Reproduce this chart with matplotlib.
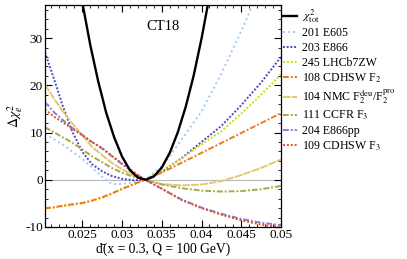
import matplotlib
matplotlib.use("Agg")
import matplotlib.pyplot as plt
from matplotlib.ticker import MultipleLocator

plt.rcParams.update({
    "font.family": ["Liberation Serif", "DejaVu Serif"],
    "mathtext.fontset": "stix",
    "axes.unicode_minus": False,
    "font.size": 10,
})

# d-bar values at which the experiment curves were read
dbar = [0.0203, 0.0215, 0.0225, 0.0237, 0.025, 0.0262, 0.0275, 0.0287, 0.030,
        0.0315, 0.0329, 0.035, 0.0375, 0.040, 0.0425, 0.045, 0.0475, 0.050]

e605 = [9.7, 8.5, 7.5, 6.0, 4.4, 2.6, 0.6, -0.9, -0.9, -0.5, 0.0, 2.8, 8.5, 14.5, 22.5, 31.5, 41.0, 51.0]
e866 = [27.0, 21.0, 15.8, 10.3, 5.9, 3.3, 1.8, 0.8, 0.2, -0.1, 0.0, 1.7, 4.6, 8.0, 11.4, 15.8, 20.6, 26.0]
lhcb = [-6.1, -5.9, -5.6, -5.3, -5.0, -4.5, -3.8, -3.0, -2.0, -1.0, 0.0, 1.9, 4.5, 7.5, 10.3, 14.0, 18.0, 22.3]
cdhsw_f2 = [-6.0, -5.8, -5.5, -5.2, -4.9, -4.4, -3.7, -2.9, -1.9, -0.9, 0.0, 1.5, 3.6, 5.7, 7.8, 9.9, 12.0, 14.1]
nmc = [20.2, 17.0, 14.6, 12.0, 9.4, 7.0, 5.2, 3.6, 2.2, 0.9, 0.0, -0.9, -1.2, -1.0, -0.3, 1.0, 2.5, 4.3]
ccfr_f3 = [11.1, 10.0, 9.0, 7.9, 6.4, 5.0, 3.7, 2.5, 1.5, 0.6, 0.0, -1.0, -1.8, -2.3, -2.5, -2.4, -2.0, -1.3]
e866pp = [16.4, 14.2, 12.7, 11.0, 9.5, 8.0, 6.6, 5.0, 3.3, 1.5, 0.0, -1.9, -4.2, -5.9, -7.2, -8.3, -9.1, -9.6]
cdhsw_f3 = [14.9, 13.3, 12.2, 10.8, 9.4, 8.0, 6.7, 5.1, 3.4, 1.6, 0.0, -1.9, -4.3, -6.0, -7.4, -8.6, -9.5, -10.1]

# total chi2 curve
dbar_tot = [0.025, 0.026, 0.027, 0.028, 0.029, 0.030, 0.031, 0.032, 0.033,
            0.034, 0.035, 0.036, 0.037, 0.038, 0.039, 0.040, 0.041]
chi2_tot = [37.5, 28.5, 20.8, 14.2, 9.0, 4.9, 2.0, 0.45, 0.0,
            0.7, 2.6, 5.7, 10.0, 15.4, 22.0, 29.9, 38.9]

series = [
    ("201 E605", e605, "#9ecbf5", (0, (1.0, 1.6))),
    ("203 E866", e866, "#4a4ac0", (0, (1.0, 0.9))),
    ("245 LHCb7ZW", lhcb, "#d9d900", (0, (1.0, 1.0))),
    ("108 CDHSW F$_2$", cdhsw_f2, "#f07a1a", (0, (3.0, 1.0, 1.0, 1.0))),
    ("104 NMC F$_2^{\\rm deu}$/F$_2^{\\rm pro}$", nmc, "#e2c870", (0, (4.0, 0.6))),
    ("111 CCFR F$_3$", ccfr_f3, "#a8a848", (0, (3.0, 1.0, 1.0, 1.0))),
    ("204 E866pp", e866pp, "#8080d8", (0, (3.0, 1.0, 1.0, 1.0))),
    ("109 CDHSW F$_3$", cdhsw_f3, "#e8501e", (0, (1.0, 1.0))),
]

fig = plt.figure(figsize=(4.07, 2.59), dpi=100)
ax = fig.add_axes([0.1106, 0.1236, 0.5798, 0.857])

ax.axhline(0, color="#b8b8b8", linewidth=0.8, zorder=1)
ax.plot(dbar_tot, chi2_tot, color="black", linewidth=1.7, label="$\\chi^2_{\\rm tot}$", zorder=5)
for label, values, color, dash in series:
    ax.plot(dbar, values, color=color, linestyle=dash, linewidth=1.4, label=label)

ax.set_xlim(0.0203, 0.050)
ax.set_ylim(-10, 37)
ax.set_xticks([0.025, 0.03, 0.035, 0.04, 0.045, 0.05])
ax.set_xticklabels(["0.025", "0.03", "0.035", "0.04", "0.045", "0.05"])
ax.set_yticks([-10, 0, 10, 20, 30])
ax.xaxis.set_minor_locator(MultipleLocator(0.001))
ax.yaxis.set_minor_locator(MultipleLocator(2))
ax.tick_params(which="both", direction="in", top=True, right=True, labelsize=9.5, pad=1.5)
ax.tick_params(which="major", length=5, width=0.8)
ax.tick_params(which="minor", length=2.5, width=0.6)
for spine in ax.spines.values():
    spine.set_linewidth(0.9)

ax.set_xlabel("d\u0304(x = 0.3, Q = 100 GeV)", fontsize=9.8, va="center")
ax.xaxis.set_label_coords(0.5, -0.1)
ax.set_ylabel("$\\Delta\\chi^2_e$", fontsize=10, labelpad=0)
ax.text(0.5, 0.905, "CT18", transform=ax.transAxes, ha="center", va="center", fontsize=10.5)

ax.legend(loc="upper left", bbox_to_anchor=(1.0, 1.0), frameon=False, fontsize=8.6,
          handlelength=1.1, handletextpad=0.5, labelspacing=0.22, borderaxespad=0.0,
          borderpad=0.2)

fig.savefig("out.png", dpi=100)
